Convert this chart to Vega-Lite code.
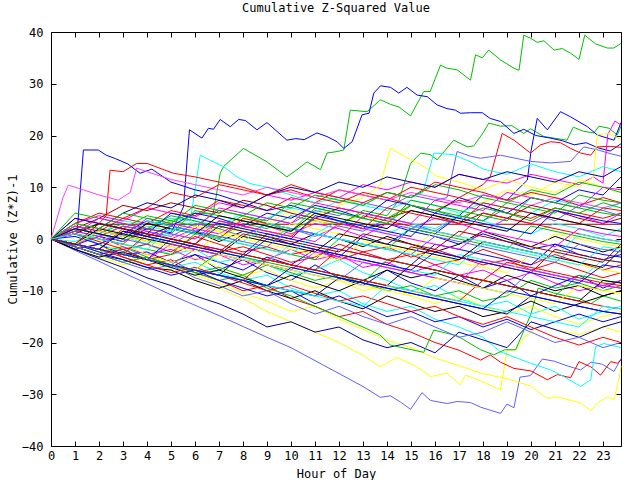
{
"$schema": "https://vega.github.io/schema/vega-lite/v6.json",
"width": 570, "height": 414,
"autosize": {"type": "none"},
"padding": {"left": 51, "top": 32, "right": 19, "bottom": 34},
"background": "white",
"config": {"view": {"stroke": "#000000", "strokeWidth": 1}, "font": "DejaVu Sans Mono"},
"title": {"text": "Cumulative Z-Squared Value", "font": "DejaVu Sans Mono", "fontSize": 12, "fontWeight": "normal", "color": "#000000", "offset": 11, "anchor": "middle"},
"data": {"values": [
{"s":1,"h":0,"v":0},{"s":1,"h":1,"v":1.5},{"s":1,"h":2,"v":0.5},{"s":1,"h":3,"v":2.5},{"s":1,"h":4,"v":1.8},{"s":1,"h":5,"v":3.5},{"s":1,"h":6,"v":5},{"s":1,"h":6.75,"v":4.8},{"s":1,"h":7.05,"v":12.7},{"s":1,"h":7.19,"v":14},{"s":1,"h":8.02,"v":17.5},{"s":1,"h":9,"v":14.9},{"s":1,"h":9.83,"v":12},{"s":1,"h":10.25,"v":13.4},{"s":1,"h":10.67,"v":14.9},{"s":1,"h":11.23,"v":13.4},{"s":1,"h":11.5,"v":16.6},{"s":1,"h":11.92,"v":16.9},{"s":1,"h":12.2,"v":17.2},{"s":1,"h":12.47,"v":24.9},{"s":1,"h":13.17,"v":24.6},{"s":1,"h":13.73,"v":26.9},{"s":1,"h":14.15,"v":26},{"s":1,"h":14.5,"v":25.5},{"s":1,"h":14.98,"v":23.8},{"s":1,"h":15.53,"v":28.5},{"s":1,"h":15.8,"v":28.5},{"s":1,"h":16.23,"v":33.6},{"s":1,"h":16.5,"v":33},{"s":1,"h":16.92,"v":32.7},{"s":1,"h":17.48,"v":30.7},{"s":1,"h":17.69,"v":35.6},{"s":1,"h":17.97,"v":35},{"s":1,"h":18.24,"v":36.5},{"s":1,"h":18.73,"v":34.6},{"s":1,"h":19.29,"v":33},{"s":1,"h":19.5,"v":32.6},{"s":1,"h":19.7,"v":39.4},{"s":1,"h":19.98,"v":38.8},{"s":1,"h":20.26,"v":38},{"s":1,"h":20.54,"v":38.3},{"s":1,"h":20.96,"v":36.5},{"s":1,"h":21.3,"v":36.8},{"s":1,"h":21.65,"v":35.9},{"s":1,"h":22,"v":34.7},{"s":1,"h":22.24,"v":39.4},{"s":1,"h":22.69,"v":37.7},{"s":1,"h":23.18,"v":36.9},{"s":1,"h":23.45,"v":36.9},{"s":1,"h":23.75,"v":37.8},
{"s":2,"h":0,"v":0},{"s":2,"h":1,"v":-1},{"s":2,"h":2,"v":1.5},{"s":2,"h":3,"v":0.8},{"s":2,"h":4,"v":-0.5},{"s":2,"h":5,"v":2},{"s":2,"h":6,"v":1.2},{"s":2,"h":7,"v":0.3},{"s":2,"h":8,"v":3},{"s":2,"h":9,"v":2},{"s":2,"h":10,"v":4.5},{"s":2,"h":11,"v":3.5},{"s":2,"h":12,"v":2.6},{"s":2,"h":13,"v":5.5},{"s":2,"h":14,"v":4.5},{"s":2,"h":14.5,"v":7.5},{"s":2,"h":14.98,"v":14.6},{"s":2,"h":15.4,"v":16.6},{"s":2,"h":15.8,"v":16.3},{"s":2,"h":16.09,"v":15.3},{"s":2,"h":16.78,"v":19.1},{"s":2,"h":17.34,"v":17.8},{"s":2,"h":17.62,"v":18},{"s":2,"h":18.03,"v":20.7},{"s":2,"h":18.24,"v":22.4},{"s":2,"h":18.73,"v":21.8},{"s":2,"h":19.2,"v":21.9},{"s":2,"h":19.7,"v":20.4},{"s":2,"h":19.98,"v":21.3},{"s":2,"h":20.54,"v":19.8},{"s":2,"h":21.5,"v":19.1},{"s":2,"h":21.76,"v":21.6},{"s":2,"h":22.2,"v":20.8},{"s":2,"h":22.62,"v":20.5},{"s":2,"h":22.83,"v":21.8},{"s":2,"h":23.25,"v":21.4},{"s":2,"h":23.6,"v":20.1},{"s":2,"h":23.75,"v":21.8},
{"s":3,"h":0,"v":0},{"s":3,"h":1,"v":-1.2},{"s":3,"h":2,"v":0.5},{"s":3,"h":3,"v":-0.5},{"s":3,"h":4,"v":2},{"s":3,"h":5,"v":1.2},{"s":3,"h":5.52,"v":6.2},{"s":3,"h":5.77,"v":21.1},{"s":3,"h":6.29,"v":19.5},{"s":3,"h":6.56,"v":21.4},{"s":3,"h":6.77,"v":21.2},{"s":3,"h":7.05,"v":23.1},{"s":3,"h":7.47,"v":21.7},{"s":3,"h":7.82,"v":23.1},{"s":3,"h":8.1,"v":22.9},{"s":3,"h":8.58,"v":21.1},{"s":3,"h":9,"v":22.5},{"s":3,"h":9.83,"v":19.1},{"s":3,"h":10.2,"v":19.4},{"s":3,"h":10.55,"v":19.2},{"s":3,"h":11.08,"v":20.5},{"s":3,"h":11.5,"v":19.8},{"s":3,"h":11.92,"v":18.8},{"s":3,"h":12.2,"v":17.5},{"s":3,"h":12.55,"v":18.8},{"s":3,"h":12.96,"v":24},{"s":3,"h":13.25,"v":24.3},{"s":3,"h":13.45,"v":28.2},{"s":3,"h":13.73,"v":29.6},{"s":3,"h":14.15,"v":29.3},{"s":3,"h":14.49,"v":28.2},{"s":3,"h":14.83,"v":29.3},{"s":3,"h":15.26,"v":27.8},{"s":3,"h":15.68,"v":27.5},{"s":3,"h":16.09,"v":25.9},{"s":3,"h":16.5,"v":25.2},{"s":3,"h":16.85,"v":24.9},{"s":3,"h":17.06,"v":24.3},{"s":3,"h":17.48,"v":24.4},{"s":3,"h":17.97,"v":24.4},{"s":3,"h":18.3,"v":23.3},{"s":3,"h":18.73,"v":22.7},{"s":3,"h":19.29,"v":20.4},{"s":3,"h":19.7,"v":21.2},{"s":3,"h":20.2,"v":20},{"s":3,"h":20.8,"v":19.5},{"s":3,"h":21.3,"v":19},{"s":3,"h":21.8,"v":18.2},{"s":3,"h":22.3,"v":18.6},{"s":3,"h":22.8,"v":17.6},{"s":3,"h":23.3,"v":17},{"s":3,"h":23.75,"v":18.4},
{"s":4,"h":0,"v":0},{"s":4,"h":1,"v":-1.5},{"s":4,"h":2,"v":-3},{"s":4,"h":3,"v":-2},{"s":4,"h":4,"v":-4},{"s":4,"h":5,"v":-5.5},{"s":4,"h":6,"v":-3},{"s":4,"h":7,"v":-4.5},{"s":4,"h":8,"v":-6},{"s":4,"h":9,"v":-3.5},{"s":4,"h":10,"v":-5},{"s":4,"h":11,"v":-2},{"s":4,"h":12,"v":-3.5},{"s":4,"h":13,"v":0.5},{"s":4,"h":14,"v":-1},{"s":4,"h":15,"v":2},{"s":4,"h":16,"v":1},{"s":4,"h":17,"v":4.5},{"s":4,"h":18,"v":8.5},{"s":4,"h":19,"v":7.5},{"s":4,"h":19.85,"v":11.4},{"s":4,"h":20,"v":17},{"s":4,"h":20.26,"v":23.3},{"s":4,"h":20.68,"v":21.1},{"s":4,"h":21.23,"v":24.6},{"s":4,"h":21.65,"v":23.6},{"s":4,"h":22.35,"v":21.7},{"s":4,"h":22.76,"v":20.1},{"s":4,"h":23.46,"v":19.1},{"s":4,"h":23.75,"v":22.5},
{"s":5,"h":0,"v":0},{"s":5,"h":1,"v":2.5},{"s":5,"h":2,"v":1.5},{"s":5,"h":3,"v":4},{"s":5,"h":4,"v":3},{"s":5,"h":5,"v":5.5},{"s":5,"h":6,"v":4.5},{"s":5,"h":7,"v":7.5},{"s":5,"h":8,"v":6.5},{"s":5,"h":9,"v":5.5},{"s":5,"h":10,"v":8},{"s":5,"h":11,"v":7},{"s":5,"h":12,"v":9.5},{"s":5,"h":13,"v":8.5},{"s":5,"h":14,"v":7.5},{"s":5,"h":15,"v":10},{"s":5,"h":16,"v":9},{"s":5,"h":17,"v":8},{"s":5,"h":18,"v":10.5},{"s":5,"h":18.3,"v":12},{"s":5,"h":18.8,"v":20.4},{"s":5,"h":19.29,"v":19.1},{"s":5,"h":19.98,"v":16.6},{"s":5,"h":20.4,"v":18.2},{"s":5,"h":20.82,"v":18.8},{"s":5,"h":21.23,"v":18.6},{"s":5,"h":21.65,"v":17.5},{"s":5,"h":22.07,"v":16.6},{"s":5,"h":22.49,"v":16.2},{"s":5,"h":22.76,"v":17.8},{"s":5,"h":23.3,"v":17.9},{"s":5,"h":23.75,"v":17.7},
{"s":6,"h":0,"v":0},{"s":6,"h":1,"v":1},{"s":6,"h":2,"v":-1},{"s":6,"h":3,"v":1.5},{"s":6,"h":4,"v":0.5},{"s":6,"h":5,"v":-1},{"s":6,"h":6,"v":1.5},{"s":6,"h":7,"v":3},{"s":6,"h":8,"v":2},{"s":6,"h":9,"v":4},{"s":6,"h":10,"v":3},{"s":6,"h":11,"v":5.5},{"s":6,"h":12,"v":4.5},{"s":6,"h":13,"v":7},{"s":6,"h":14,"v":6},{"s":6,"h":15,"v":8.5},{"s":6,"h":16,"v":7.5},{"s":6,"h":16.5,"v":8},{"s":6,"h":16.92,"v":16.9},{"s":6,"h":17.48,"v":16},{"s":6,"h":17.9,"v":15.6},{"s":6,"h":18.73,"v":16.2},{"s":6,"h":19.98,"v":15},{"s":6,"h":20.82,"v":14.7},{"s":6,"h":21.65,"v":15},{"s":6,"h":22.2,"v":17.8},{"s":6,"h":22.8,"v":17.2},{"s":6,"h":23.3,"v":16.5},{"s":6,"h":23.75,"v":16},
{"s":7,"h":0,"v":0},{"s":7,"h":1,"v":3},{"s":7,"h":2,"v":4.5},{"s":7,"h":3,"v":3.5},{"s":7,"h":4,"v":6},{"s":7,"h":5,"v":5},{"s":7,"h":6,"v":4.2},{"s":7,"h":7,"v":7},{"s":7,"h":8,"v":6},{"s":7,"h":9,"v":8.5},{"s":7,"h":10,"v":7.5},{"s":7,"h":11,"v":9},{"s":7,"h":12,"v":8},{"s":7,"h":13,"v":10.5},{"s":7,"h":14,"v":9.5},{"s":7,"h":15,"v":11},{"s":7,"h":16,"v":10},{"s":7,"h":17,"v":12.5},{"s":7,"h":18,"v":11.5},{"s":7,"h":19,"v":10.8},{"s":7,"h":20,"v":12.5},{"s":7,"h":21,"v":11.5},{"s":7,"h":22,"v":10.5},{"s":7,"h":22.6,"v":12},{"s":7,"h":23,"v":10.8},{"s":7,"h":23.2,"v":20.2},{"s":7,"h":23.5,"v":22.8},{"s":7,"h":23.75,"v":22},
{"s":8,"h":0,"v":0},{"s":8,"h":1,"v":-0.8},{"s":8,"h":2,"v":-2},{"s":8,"h":3,"v":0.5},{"s":8,"h":4,"v":-0.5},{"s":8,"h":5,"v":-1.5},{"s":8,"h":6,"v":1},{"s":8,"h":7,"v":0},{"s":8,"h":8,"v":2.5},{"s":8,"h":9,"v":1.5},{"s":8,"h":10,"v":0.8},{"s":8,"h":11,"v":3.5},{"s":8,"h":12,"v":2.5},{"s":8,"h":13,"v":5},{"s":8,"h":14,"v":4},{"s":8,"h":15,"v":6.5},{"s":8,"h":16,"v":5.5},{"s":8,"h":17,"v":8},{"s":8,"h":18,"v":7},{"s":8,"h":19,"v":9.5},{"s":8,"h":20,"v":8.5},{"s":8,"h":21,"v":11},{"s":8,"h":22,"v":10},{"s":8,"h":22.6,"v":12},{"s":8,"h":22.76,"v":20.1},{"s":8,"h":23.2,"v":20.4},{"s":8,"h":23.75,"v":19.3},
{"s":9,"h":0,"v":0},{"s":9,"h":1,"v":2},{"s":9,"h":2,"v":1},{"s":9,"h":3,"v":3.5},{"s":9,"h":4,"v":2.8},{"s":9,"h":5,"v":4},{"s":9,"h":5.8,"v":3.5},{"s":9,"h":6.22,"v":16.2},{"s":9,"h":6.77,"v":14.9},{"s":9,"h":7.19,"v":14},{"s":9,"h":7.75,"v":12},{"s":9,"h":8.3,"v":10.7},{"s":9,"h":9,"v":10},{"s":9,"h":10,"v":8.5},{"s":9,"h":11,"v":7},{"s":9,"h":12,"v":8},{"s":9,"h":13,"v":6.5},{"s":9,"h":14,"v":5.5},{"s":9,"h":15,"v":7.5},{"s":9,"h":16,"v":6.5},{"s":9,"h":17,"v":5},{"s":9,"h":18,"v":7},{"s":9,"h":19,"v":6},{"s":9,"h":20,"v":5},{"s":9,"h":21,"v":7.5},{"s":9,"h":22,"v":6.5},{"s":9,"h":23,"v":5.5},{"s":9,"h":23.75,"v":7},
{"s":10,"h":0,"v":0},{"s":10,"h":1,"v":1},{"s":10,"h":2,"v":-0.5},{"s":10,"h":3,"v":2},{"s":10,"h":4,"v":1},{"s":10,"h":5,"v":3.5},{"s":10,"h":6,"v":2.5},{"s":10,"h":7,"v":1.5},{"s":10,"h":8,"v":4},{"s":10,"h":9,"v":3},{"s":10,"h":10,"v":5.5},{"s":10,"h":11,"v":4.5},{"s":10,"h":12,"v":6.5},{"s":10,"h":13,"v":8},{"s":10,"h":13.72,"v":10.4},{"s":10,"h":14.14,"v":17.5},{"s":10,"h":14.98,"v":15.3},{"s":10,"h":15.4,"v":14.4},{"s":10,"h":16.09,"v":12.1},{"s":10,"h":17,"v":11},{"s":10,"h":18,"v":9.5},{"s":10,"h":19,"v":11.5},{"s":10,"h":20,"v":10},{"s":10,"h":21,"v":9},{"s":10,"h":22,"v":11.5},{"s":10,"h":23,"v":10},{"s":10,"h":23.75,"v":9},
{"s":11,"h":0,"v":0},{"s":11,"h":1,"v":-1},{"s":11,"h":2,"v":1},{"s":11,"h":3,"v":0},{"s":11,"h":4,"v":2.5},{"s":11,"h":5,"v":1.5},{"s":11,"h":6,"v":3.5},{"s":11,"h":7,"v":2.5},{"s":11,"h":8,"v":5},{"s":11,"h":9,"v":4},{"s":11,"h":10,"v":6},{"s":11,"h":11,"v":5},{"s":11,"h":12,"v":7.5},{"s":11,"h":13,"v":6.5},{"s":11,"h":14,"v":9},{"s":11,"h":15,"v":8},{"s":11,"h":15.5,"v":9},{"s":11,"h":15.95,"v":16.6},{"s":11,"h":16.78,"v":16.3},{"s":11,"h":17.48,"v":14.9},{"s":11,"h":18,"v":13.5},{"s":11,"h":19,"v":12.5},{"s":11,"h":20,"v":14.5},{"s":11,"h":21,"v":13},{"s":11,"h":22,"v":12},{"s":11,"h":23,"v":14},{"s":11,"h":23.75,"v":13},
{"s":12,"h":0,"v":0},{"s":12,"h":1,"v":4},{"s":12,"h":2,"v":3},{"s":12,"h":2.3,"v":4.5},{"s":12,"h":2.46,"v":13.3},{"s":12,"h":3,"v":13},{"s":12,"h":3.57,"v":14.6},{"s":12,"h":4,"v":14.6},{"s":12,"h":5.1,"v":12.7},{"s":12,"h":6,"v":12},{"s":12,"h":7,"v":11},{"s":12,"h":8,"v":10},{"s":12,"h":9,"v":8.5},{"s":12,"h":10,"v":9.5},{"s":12,"h":11,"v":8},{"s":12,"h":12,"v":7},{"s":12,"h":13,"v":9},{"s":12,"h":14,"v":8},{"s":12,"h":15,"v":6.5},{"s":12,"h":16,"v":5.5},{"s":12,"h":17,"v":7.5},{"s":12,"h":18,"v":6.5},{"s":12,"h":19,"v":5},{"s":12,"h":20,"v":4},{"s":12,"h":21,"v":6},{"s":12,"h":22,"v":5},{"s":12,"h":23,"v":4},{"s":12,"h":23.75,"v":5},
{"s":13,"h":0,"v":0},{"s":13,"h":0.5,"v":1.5},{"s":13,"h":1.1,"v":2},{"s":13,"h":1.35,"v":17.2},{"s":13,"h":1.97,"v":17.2},{"s":13,"h":2.3,"v":16.2},{"s":13,"h":2.7,"v":15.5},{"s":13,"h":3.2,"v":14.5},{"s":13,"h":3.71,"v":12.7},{"s":13,"h":4.2,"v":13.5},{"s":13,"h":5,"v":11},{"s":13,"h":6,"v":9.5},{"s":13,"h":7,"v":8.5},{"s":13,"h":8,"v":7},{"s":13,"h":9,"v":5.5},{"s":13,"h":10,"v":6.5},{"s":13,"h":11,"v":5},{"s":13,"h":12,"v":3.5},{"s":13,"h":13,"v":2},{"s":13,"h":14,"v":3},{"s":13,"h":15,"v":1.5},{"s":13,"h":16,"v":0.5},{"s":13,"h":17,"v":-1},{"s":13,"h":18,"v":1},{"s":13,"h":19,"v":-0.5},{"s":13,"h":20,"v":-2},{"s":13,"h":21,"v":-1},{"s":13,"h":22,"v":-3},{"s":13,"h":23,"v":-4},{"s":13,"h":23.75,"v":-3},
{"s":14,"h":0,"v":0},{"s":14,"h":0.5,"v":8},{"s":14,"h":0.72,"v":10.4},{"s":14,"h":1.35,"v":9.5},{"s":14,"h":2,"v":8.5},{"s":14,"h":2.8,"v":7.5},{"s":14,"h":3.3,"v":9},{"s":14,"h":3.57,"v":13.7},{"s":14,"h":4,"v":13},{"s":14,"h":5,"v":11.5},{"s":14,"h":6,"v":10.5},{"s":14,"h":7,"v":9.5},{"s":14,"h":8,"v":8.5},{"s":14,"h":9,"v":10},{"s":14,"h":10,"v":9},{"s":14,"h":11,"v":8},{"s":14,"h":12,"v":9.5},{"s":14,"h":13,"v":8.5},{"s":14,"h":14,"v":7.5},{"s":14,"h":15,"v":9},{"s":14,"h":16,"v":8},{"s":14,"h":17,"v":7},{"s":14,"h":18,"v":8.5},{"s":14,"h":19,"v":7.5},{"s":14,"h":20,"v":6.5},{"s":14,"h":21,"v":8},{"s":14,"h":22,"v":7},{"s":14,"h":23,"v":6},{"s":14,"h":23.75,"v":7},
{"s":15,"h":0,"v":0},{"s":15,"h":1,"v":1.5},{"s":15,"h":2,"v":2.85},{"s":15,"h":12,"v":2.85},{"s":15,"h":23.75,"v":2.85},
{"s":16,"h":0,"v":0},{"s":16,"h":1,"v":-2.2},{"s":16,"h":2,"v":-4.3},{"s":16,"h":3,"v":-6.5},{"s":16,"h":4,"v":-8.6},{"s":16,"h":5,"v":-10.8},{"s":16,"h":6,"v":-12.8},{"s":16,"h":7,"v":-14.8},{"s":16,"h":8,"v":-16.9},{"s":16,"h":9,"v":-19},{"s":16,"h":10,"v":-21},{"s":16,"h":11,"v":-23.5},{"s":16,"h":12,"v":-26},{"s":16,"h":13,"v":-28.5},{"s":16,"h":13.72,"v":-30.6},{"s":16,"h":14.14,"v":-30.3},{"s":16,"h":14.56,"v":-31.5},{"s":16,"h":14.98,"v":-32.9},{"s":16,"h":15.46,"v":-29.7},{"s":16,"h":15.81,"v":-31.2},{"s":16,"h":16.51,"v":-31.8},{"s":16,"h":16.92,"v":-31.4},{"s":16,"h":17.48,"v":-31.6},{"s":16,"h":17.9,"v":-32.5},{"s":16,"h":18.73,"v":-33.7},{"s":16,"h":19,"v":-31.9},{"s":16,"h":19.29,"v":-32.6},{"s":16,"h":19.54,"v":-26.7},{"s":16,"h":19.98,"v":-26.4},{"s":16,"h":20.47,"v":-23.2},{"s":16,"h":20.96,"v":-23.6},{"s":16,"h":21.5,"v":-24.5},{"s":16,"h":22.07,"v":-25.3},{"s":16,"h":22.5,"v":-23.8},{"s":16,"h":22.97,"v":-24.2},{"s":16,"h":23.46,"v":-25.6},{"s":16,"h":23.75,"v":-23.1},
{"s":17,"h":0,"v":0},{"s":17,"h":1,"v":-2},{"s":17,"h":2,"v":-3.5},{"s":17,"h":3,"v":-5},{"s":17,"h":4,"v":-4},{"s":17,"h":5,"v":-6},{"s":17,"h":6,"v":-8},{"s":17,"h":7,"v":-9.5},{"s":17,"h":8,"v":-11.5},{"s":17,"h":9,"v":-14},{"s":17,"h":10,"v":-16},{"s":17,"h":11,"v":-18},{"s":17,"h":12,"v":-20},{"s":17,"h":13,"v":-22.5},{"s":17,"h":13.72,"v":-24.7},{"s":17,"h":14.42,"v":-22.9},{"s":17,"h":14.84,"v":-23.8},{"s":17,"h":15.25,"v":-24.7},{"s":17,"h":15.81,"v":-26.6},{"s":17,"h":16.5,"v":-25.9},{"s":17,"h":17.06,"v":-28.2},{"s":17,"h":17.27,"v":-26.3},{"s":17,"h":17.9,"v":-27.4},{"s":17,"h":18.73,"v":-29.2},{"s":17,"h":19,"v":-21.5},{"s":17,"h":19.36,"v":-21.4},{"s":17,"h":19.7,"v":-19},{"s":17,"h":20.4,"v":-16.6},{"s":17,"h":21,"v":-17.5},{"s":17,"h":22,"v":-18.5},{"s":17,"h":23,"v":-17},{"s":17,"h":23.75,"v":-18},
{"s":18,"h":0,"v":0},{"s":18,"h":1,"v":-1.5},{"s":18,"h":2,"v":-3},{"s":18,"h":3,"v":-4.5},{"s":18,"h":4,"v":-3},{"s":18,"h":5,"v":-5},{"s":18,"h":6,"v":-7},{"s":18,"h":7,"v":-8.5},{"s":18,"h":8,"v":-10.5},{"s":18,"h":9,"v":-12},{"s":18,"h":10,"v":-14},{"s":18,"h":11,"v":-13},{"s":18,"h":12,"v":-15.5},{"s":18,"h":13,"v":-17.5},{"s":18,"h":14,"v":-19.5},{"s":18,"h":15,"v":-21},{"s":18,"h":16,"v":-23},{"s":18,"h":17,"v":-24.5},{"s":18,"h":18,"v":-26},{"s":18,"h":19,"v":-27},{"s":18,"h":19.98,"v":-28.4},{"s":18,"h":20.68,"v":-30.8},{"s":18,"h":21.1,"v":-30.5},{"s":18,"h":22.07,"v":-31.7},{"s":18,"h":22.49,"v":-33.2},{"s":18,"h":22.76,"v":-31.7},{"s":18,"h":23.18,"v":-30.5},{"s":18,"h":23.46,"v":-31},{"s":18,"h":23.67,"v":-26.9},{"s":18,"h":23.75,"v":-24.6},
{"s":19,"h":0,"v":0},{"s":19,"h":1,"v":-2},{"s":19,"h":2,"v":-1},{"s":19,"h":3,"v":-3.5},{"s":19,"h":4,"v":-5},{"s":19,"h":5,"v":-4},{"s":19,"h":6,"v":-6.5},{"s":19,"h":7,"v":-8},{"s":19,"h":8,"v":-10},{"s":19,"h":9,"v":-9},{"s":19,"h":10,"v":-11.5},{"s":19,"h":11,"v":-13},{"s":19,"h":12,"v":-15},{"s":19,"h":13,"v":-14},{"s":19,"h":14,"v":-16.5},{"s":19,"h":15,"v":-18},{"s":19,"h":16,"v":-20},{"s":19,"h":17,"v":-21.5},{"s":19,"h":17.9,"v":-23.4},{"s":19,"h":18.3,"v":-22.4},{"s":19,"h":18.73,"v":-23.8},{"s":19,"h":19.29,"v":-25},{"s":19,"h":20,"v":-25.5},{"s":19,"h":20.68,"v":-27.2},{"s":19,"h":21.1,"v":-26.2},{"s":19,"h":21.65,"v":-26.8},{"s":19,"h":22,"v":-23.7},{"s":19,"h":22.49,"v":-24.7},{"s":19,"h":22.9,"v":-26.3},{"s":19,"h":23.32,"v":-23.7},{"s":19,"h":23.6,"v":-24},{"s":19,"h":23.75,"v":-23.4},
{"s":20,"h":0,"v":0},{"s":20,"h":1,"v":-1.5},{"s":20,"h":2,"v":-3},{"s":20,"h":3,"v":-2},{"s":20,"h":4,"v":-4},{"s":20,"h":5,"v":-5.5},{"s":20,"h":6,"v":-4.5},{"s":20,"h":7,"v":-6.5},{"s":20,"h":8,"v":-8},{"s":20,"h":9,"v":-7},{"s":20,"h":10,"v":-9.5},{"s":20,"h":11,"v":-11},{"s":20,"h":12,"v":-10},{"s":20,"h":13,"v":-12.5},{"s":20,"h":14,"v":-14},{"s":20,"h":15,"v":-13},{"s":20,"h":16,"v":-15.5},{"s":20,"h":17,"v":-17},{"s":20,"h":18,"v":-19},{"s":20,"h":18.73,"v":-21.8},{"s":20,"h":19.98,"v":-24},{"s":20,"h":20.82,"v":-25.3},{"s":20,"h":21.37,"v":-26.6},{"s":20,"h":22.07,"v":-28.5},{"s":20,"h":22.49,"v":-27.2},{"s":20,"h":22.69,"v":-20.8},{"s":20,"h":23.04,"v":-20.2},{"s":20,"h":23.75,"v":-21},
{"s":21,"h":0,"v":0},{"s":21,"h":1,"v":-2},{"s":21,"h":2,"v":-3.8},{"s":21,"h":3,"v":-5.5},{"s":21,"h":4,"v":-7.5},{"s":21,"h":5,"v":-9},{"s":21,"h":6,"v":-11},{"s":21,"h":7,"v":-12.5},{"s":21,"h":8,"v":-14.5},{"s":21,"h":9,"v":-17},{"s":21,"h":10,"v":-16},{"s":21,"h":11,"v":-18},{"s":21,"h":12,"v":-17},{"s":21,"h":13,"v":-19.5},{"s":21,"h":14,"v":-21},{"s":21,"h":15,"v":-20},{"s":21,"h":16,"v":-22},{"s":21,"h":17,"v":-18},{"s":21,"h":18,"v":-19.5},{"s":21,"h":19,"v":-21},{"s":21,"h":20,"v":-16},{"s":21,"h":21,"v":-17.5},{"s":21,"h":22,"v":-19},{"s":21,"h":23,"v":-17},{"s":21,"h":23.75,"v":-16},
{"s":22,"h":0,"v":0},{"s":22,"h":1,"v":-1},{"s":22,"h":2,"v":-2.5},{"s":22,"h":3,"v":-1.5},{"s":22,"h":4,"v":-3.5},{"s":22,"h":5,"v":-5},{"s":22,"h":6,"v":-6.5},{"s":22,"h":7,"v":-8},{"s":22,"h":8,"v":-7},{"s":22,"h":9,"v":-9.5},{"s":22,"h":10,"v":-11},{"s":22,"h":11,"v":-13},{"s":22,"h":12,"v":-15},{"s":22,"h":13,"v":-17},{"s":22,"h":13.7,"v":-18.5},{"s":22,"h":14.14,"v":-20.5},{"s":22,"h":15.53,"v":-21.9},{"s":22,"h":15.95,"v":-17.6},{"s":22,"h":16.92,"v":-18.7},{"s":22,"h":17.9,"v":-21.4},{"s":22,"h":18.45,"v":-22.4},{"s":22,"h":18.9,"v":-21.4},{"s":22,"h":19.36,"v":-21.4},{"s":22,"h":19.98,"v":-14.7},{"s":22,"h":20.3,"v":-9.5},{"s":22,"h":21,"v":-10.5},{"s":22,"h":22,"v":-11.5},{"s":22,"h":22.5,"v":-12.5},{"s":22,"h":23,"v":-11},{"s":22,"h":23.75,"v":-12},
{"s":23,"h":0,"v":0},{"s":23,"h":1,"v":-1.5},{"s":23,"h":2,"v":-3},{"s":23,"h":3,"v":-4},{"s":23,"h":4,"v":-5.5},{"s":23,"h":5,"v":-6},{"s":23,"h":6,"v":-8},{"s":23,"h":7,"v":-9.5},{"s":23,"h":8,"v":-8},{"s":23,"h":9,"v":-10},{"s":23,"h":10,"v":-11.5},{"s":23,"h":11,"v":-10},{"s":23,"h":12,"v":-12},{"s":23,"h":13,"v":-13.5},{"s":23,"h":14,"v":-11},{"s":23,"h":15,"v":-12.5},{"s":23,"h":16,"v":-14},{"s":23,"h":17,"v":-13},{"s":23,"h":18,"v":-15},{"s":23,"h":19,"v":-14},{"s":23,"h":20,"v":-12},{"s":23,"h":21,"v":-14},{"s":23,"h":22,"v":-12.5},{"s":23,"h":23,"v":-11},{"s":23,"h":23.75,"v":-10},
{"s":24,"h":0,"v":0},{"s":24,"h":1,"v":3},{"s":24,"h":2,"v":5},{"s":24,"h":3,"v":4},{"s":24,"h":4,"v":6},{"s":24,"h":5,"v":9},{"s":24,"h":6,"v":8},{"s":24,"h":7,"v":10.5},{"s":24,"h":8,"v":9.5},{"s":24,"h":9,"v":8.5},{"s":24,"h":10,"v":10.5},{"s":24,"h":11,"v":9},{"s":24,"h":12,"v":8},{"s":24,"h":13,"v":7},{"s":24,"h":14,"v":9},{"s":24,"h":15,"v":8},{"s":24,"h":16,"v":11},{"s":24,"h":17,"v":10},{"s":24,"h":18,"v":9},{"s":24,"h":19,"v":7.5},{"s":24,"h":20,"v":9},{"s":24,"h":21,"v":8},{"s":24,"h":22,"v":6.5},{"s":24,"h":23,"v":8},{"s":24,"h":23.75,"v":7},
{"s":25,"h":0,"v":0},{"s":25,"h":1,"v":-2},{"s":25,"h":2,"v":-1},{"s":25,"h":3,"v":-3},{"s":25,"h":4,"v":-2.5},{"s":25,"h":5,"v":-4.5},{"s":25,"h":6,"v":-3},{"s":25,"h":7,"v":-6},{"s":25,"h":8,"v":-4},{"s":25,"h":9,"v":-6.5},{"s":25,"h":10,"v":-8},{"s":25,"h":11,"v":-5},{"s":25,"h":12,"v":-7.5},{"s":25,"h":13,"v":-9},{"s":25,"h":14,"v":-6},{"s":25,"h":15,"v":-8.5},{"s":25,"h":16,"v":-10},{"s":25,"h":17,"v":-7},{"s":25,"h":18,"v":-9.5},{"s":25,"h":19,"v":-8},{"s":25,"h":20,"v":-11},{"s":25,"h":21,"v":-9},{"s":25,"h":22,"v":-7},{"s":25,"h":23,"v":-9.5},{"s":25,"h":23.75,"v":-8},
{"s":26,"h":0,"v":0},{"s":26,"h":1,"v":1.5},{"s":26,"h":2,"v":3},{"s":26,"h":3,"v":2},{"s":26,"h":4,"v":4.5},{"s":26,"h":5,"v":3.5},{"s":26,"h":6,"v":2.5},{"s":26,"h":7,"v":5.5},{"s":26,"h":8,"v":4.5},{"s":26,"h":9,"v":7},{"s":26,"h":10,"v":6},{"s":26,"h":11,"v":8.5},{"s":26,"h":12,"v":7.5},{"s":26,"h":13,"v":6.5},{"s":26,"h":14,"v":9},{"s":26,"h":15,"v":8},{"s":26,"h":16,"v":10.5},{"s":26,"h":17,"v":9.5},{"s":26,"h":18,"v":8},{"s":26,"h":19,"v":7},{"s":26,"h":20,"v":9.5},{"s":26,"h":21,"v":8.5},{"s":26,"h":22,"v":11},{"s":26,"h":23,"v":10},{"s":26,"h":23.75,"v":9},
{"s":27,"h":0,"v":0},{"s":27,"h":1,"v":-1},{"s":27,"h":2,"v":0.5},{"s":27,"h":3,"v":-1.5},{"s":27,"h":4,"v":-3},{"s":27,"h":5,"v":-2},{"s":27,"h":6,"v":-4},{"s":27,"h":7,"v":-3},{"s":27,"h":8,"v":-5},{"s":27,"h":9,"v":-4},{"s":27,"h":10,"v":-2},{"s":27,"h":11,"v":-4},{"s":27,"h":12,"v":-3},{"s":27,"h":13,"v":-5.5},{"s":27,"h":14,"v":-4.5},{"s":27,"h":15,"v":-6.5},{"s":27,"h":16,"v":-5},{"s":27,"h":17,"v":-7},{"s":27,"h":18,"v":-6},{"s":27,"h":19,"v":-8},{"s":27,"h":20,"v":-6.5},{"s":27,"h":21,"v":-8.5},{"s":27,"h":22,"v":-10},{"s":27,"h":23,"v":-9},{"s":27,"h":23.75,"v":-8},
{"s":28,"h":0,"v":0},{"s":28,"h":1,"v":1},{"s":28,"h":2,"v":-1},{"s":28,"h":3,"v":-2.5},{"s":28,"h":4,"v":-1},{"s":28,"h":5,"v":-3},{"s":28,"h":6,"v":-2},{"s":28,"h":7,"v":-4.5},{"s":28,"h":8,"v":-3.5},{"s":28,"h":9,"v":-5},{"s":28,"h":10,"v":-7},{"s":28,"h":11,"v":-6},{"s":28,"h":12,"v":-4},{"s":28,"h":13,"v":-6.5},{"s":28,"h":14,"v":-8},{"s":28,"h":15,"v":-10},{"s":28,"h":16,"v":-9},{"s":28,"h":17,"v":-11.5},{"s":28,"h":18,"v":-13},{"s":28,"h":19,"v":-12},{"s":28,"h":20,"v":-14.5},{"s":28,"h":21,"v":-13},{"s":28,"h":22,"v":-15.5},{"s":28,"h":23,"v":-14},{"s":28,"h":23.75,"v":-13},
{"s":29,"h":0,"v":0},{"s":29,"h":1,"v":1},{"s":29,"h":2,"v":3},{"s":29,"h":3,"v":2},{"s":29,"h":4,"v":0.5},{"s":29,"h":5,"v":2.5},{"s":29,"h":6,"v":1.5},{"s":29,"h":7,"v":-0.5},{"s":29,"h":8,"v":1.5},{"s":29,"h":9,"v":0.5},{"s":29,"h":10,"v":-1},{"s":29,"h":11,"v":1},{"s":29,"h":12,"v":0},{"s":29,"h":13,"v":-1.5},{"s":29,"h":14,"v":0.5},{"s":29,"h":15,"v":-1},{"s":29,"h":16,"v":-2.5},{"s":29,"h":17,"v":-1},{"s":29,"h":18,"v":1.5},{"s":29,"h":19,"v":0},{"s":29,"h":20,"v":-1.5},{"s":29,"h":21,"v":0.5},{"s":29,"h":22,"v":-1},{"s":29,"h":23,"v":-2.5},{"s":29,"h":23.75,"v":-1.5},
{"s":30,"h":0,"v":0},{"s":30,"h":1,"v":-1},{"s":30,"h":2,"v":-2.5},{"s":30,"h":3,"v":-1},{"s":30,"h":4,"v":-3},{"s":30,"h":5,"v":-4.5},{"s":30,"h":6,"v":-3.5},{"s":30,"h":7,"v":-5.5},{"s":30,"h":8,"v":-7},{"s":30,"h":9,"v":-6},{"s":30,"h":10,"v":-8},{"s":30,"h":11,"v":-9.5},{"s":30,"h":12,"v":-8},{"s":30,"h":13,"v":-10},{"s":30,"h":14,"v":-9},{"s":30,"h":15,"v":-11},{"s":30,"h":16,"v":-12.5},{"s":30,"h":17,"v":-11},{"s":30,"h":18,"v":-13},{"s":30,"h":19,"v":-14.5},{"s":30,"h":20,"v":-13},{"s":30,"h":21,"v":-15},{"s":30,"h":22,"v":-16.5},{"s":30,"h":23,"v":-15},{"s":30,"h":23.75,"v":-14},
{"s":31,"h":0,"v":0},{"s":31,"h":1,"v":2},{"s":31,"h":2,"v":1},{"s":31,"h":3,"v":-0.5},{"s":31,"h":4,"v":1.5},{"s":31,"h":5,"v":0.5},{"s":31,"h":6,"v":3},{"s":31,"h":7,"v":2},{"s":31,"h":8,"v":0.5},{"s":31,"h":9,"v":3},{"s":31,"h":10,"v":2},{"s":31,"h":11,"v":0.5},{"s":31,"h":12,"v":2.5},{"s":31,"h":13,"v":1.5},{"s":31,"h":14,"v":4},{"s":31,"h":15,"v":3},{"s":31,"h":16,"v":1.5},{"s":31,"h":17,"v":4.5},{"s":31,"h":18,"v":3.5},{"s":31,"h":19,"v":6},{"s":31,"h":20,"v":5},{"s":31,"h":21,"v":3.5},{"s":31,"h":22,"v":6.5},{"s":31,"h":23,"v":5.5},{"s":31,"h":23.75,"v":4.5},
{"s":32,"h":0,"v":0},{"s":32,"h":1,"v":2},{"s":32,"h":2,"v":4},{"s":32,"h":3,"v":6.5},{"s":32,"h":4,"v":5.5},{"s":32,"h":5,"v":7},{"s":32,"h":6,"v":6},{"s":32,"h":7,"v":5},{"s":32,"h":8,"v":7.5},{"s":32,"h":9,"v":6.5},{"s":32,"h":10,"v":5},{"s":32,"h":11,"v":4},{"s":32,"h":12,"v":6},{"s":32,"h":13,"v":5},{"s":32,"h":14,"v":4},{"s":32,"h":15,"v":5.5},{"s":32,"h":16,"v":4.5},{"s":32,"h":17,"v":3},{"s":32,"h":18,"v":5},{"s":32,"h":19,"v":4},{"s":32,"h":20,"v":6.5},{"s":32,"h":21,"v":5.5},{"s":32,"h":22,"v":4},{"s":32,"h":23,"v":3},{"s":32,"h":23.75,"v":4},
{"s":33,"h":0,"v":0},{"s":33,"h":1,"v":-1.5},{"s":33,"h":2,"v":-3},{"s":33,"h":3,"v":-2},{"s":33,"h":4,"v":-4},{"s":33,"h":5,"v":-3},{"s":33,"h":6,"v":-1},{"s":33,"h":7,"v":-2.5},{"s":33,"h":8,"v":-1.5},{"s":33,"h":9,"v":-3},{"s":33,"h":10,"v":-4.5},{"s":33,"h":11,"v":-3.5},{"s":33,"h":12,"v":-1},{"s":33,"h":13,"v":-2.5},{"s":33,"h":14,"v":-4},{"s":33,"h":15,"v":-3},{"s":33,"h":16,"v":-5},{"s":33,"h":17,"v":-4},{"s":33,"h":18,"v":-2},{"s":33,"h":19,"v":-3.5},{"s":33,"h":20,"v":-5},{"s":33,"h":21,"v":-3},{"s":33,"h":22,"v":-4.5},{"s":33,"h":23,"v":-6},{"s":33,"h":23.75,"v":-5},
{"s":34,"h":0,"v":0},{"s":34,"h":1,"v":0.5},{"s":34,"h":2,"v":-1},{"s":34,"h":3,"v":1},{"s":34,"h":4,"v":3.5},{"s":34,"h":5,"v":2.5},{"s":34,"h":6,"v":5},{"s":34,"h":7,"v":4},{"s":34,"h":8,"v":2.5},{"s":34,"h":9,"v":5},{"s":34,"h":10,"v":4},{"s":34,"h":11,"v":6.5},{"s":34,"h":12,"v":5.5},{"s":34,"h":13,"v":4},{"s":34,"h":14,"v":7.5},{"s":34,"h":15,"v":6.5},{"s":34,"h":16,"v":5},{"s":34,"h":17,"v":8},{"s":34,"h":18,"v":6.5},{"s":34,"h":19,"v":5},{"s":34,"h":20,"v":8},{"s":34,"h":21,"v":7},{"s":34,"h":22,"v":9.5},{"s":34,"h":23,"v":8.5},{"s":34,"h":23.75,"v":12},
{"s":35,"h":0,"v":0},{"s":35,"h":1,"v":-1.5},{"s":35,"h":2,"v":-3},{"s":35,"h":3,"v":-4.5},{"s":35,"h":4,"v":-3.5},{"s":35,"h":5,"v":-5},{"s":35,"h":6,"v":-6.5},{"s":35,"h":7,"v":-5.5},{"s":35,"h":8,"v":-7},{"s":35,"h":9,"v":-5},{"s":35,"h":10,"v":-6.5},{"s":35,"h":11,"v":-8},{"s":35,"h":12,"v":-7},{"s":35,"h":13,"v":-8.5},{"s":35,"h":14,"v":-10},{"s":35,"h":15,"v":-9},{"s":35,"h":16,"v":-11},{"s":35,"h":17,"v":-10},{"s":35,"h":18,"v":-12},{"s":35,"h":19,"v":-11},{"s":35,"h":20,"v":-8},{"s":35,"h":21,"v":-9.5},{"s":35,"h":22,"v":-8.5},{"s":35,"h":23,"v":-10},{"s":35,"h":23.75,"v":-9},
{"s":36,"h":0,"v":0},{"s":36,"h":1,"v":1.5},{"s":36,"h":2,"v":0.5},{"s":36,"h":3,"v":2.5},{"s":36,"h":4,"v":1.5},{"s":36,"h":5,"v":0},{"s":36,"h":6,"v":2},{"s":36,"h":7,"v":1},{"s":36,"h":8,"v":3.5},{"s":36,"h":9,"v":2.5},{"s":36,"h":10,"v":1},{"s":36,"h":11,"v":3},{"s":36,"h":12,"v":2},{"s":36,"h":13,"v":0.5},{"s":36,"h":14,"v":3},{"s":36,"h":15,"v":2},{"s":36,"h":16,"v":4},{"s":36,"h":17,"v":3},{"s":36,"h":18,"v":1.5},{"s":36,"h":19,"v":4},{"s":36,"h":20,"v":3},{"s":36,"h":21,"v":5.5},{"s":36,"h":22,"v":4.5},{"s":36,"h":23,"v":3},{"s":36,"h":23.75,"v":5},
{"s":37,"h":0,"v":0},{"s":37,"h":1,"v":-0.5},{"s":37,"h":2,"v":1.5},{"s":37,"h":3,"v":0.5},{"s":37,"h":4,"v":-1},{"s":37,"h":5,"v":1},{"s":37,"h":6,"v":0},{"s":37,"h":7,"v":2.5},{"s":37,"h":8,"v":1.5},{"s":37,"h":9,"v":0},{"s":37,"h":10,"v":2},{"s":37,"h":11,"v":1},{"s":37,"h":12,"v":3.5},{"s":37,"h":13,"v":2.5},{"s":37,"h":14,"v":1},{"s":37,"h":15,"v":3},{"s":37,"h":16,"v":2},{"s":37,"h":17,"v":4.5},{"s":37,"h":18,"v":3.5},{"s":37,"h":19,"v":2},{"s":37,"h":20,"v":1},{"s":37,"h":21,"v":3},{"s":37,"h":22,"v":2},{"s":37,"h":23,"v":0.5},{"s":37,"h":23.75,"v":2},
{"s":38,"h":0,"v":0},{"s":38,"h":1,"v":-2},{"s":38,"h":2,"v":-3.5},{"s":38,"h":3,"v":-2.5},{"s":38,"h":4,"v":-4},{"s":38,"h":5,"v":-5.5},{"s":38,"h":6,"v":-7},{"s":38,"h":7,"v":-6},{"s":38,"h":8,"v":-7.5},{"s":38,"h":9,"v":-9},{"s":38,"h":10,"v":-7},{"s":38,"h":11,"v":-8.5},{"s":38,"h":12,"v":-10},{"s":38,"h":13,"v":-8},{"s":38,"h":14,"v":-6},{"s":38,"h":15,"v":-7.5},{"s":38,"h":16,"v":-6.5},{"s":38,"h":17,"v":-8},{"s":38,"h":18,"v":-9.5},{"s":38,"h":19,"v":-7},{"s":38,"h":20,"v":-8.5},{"s":38,"h":21,"v":-10},{"s":38,"h":22,"v":-9},{"s":38,"h":23,"v":-11},{"s":38,"h":23.75,"v":-10},
{"s":39,"h":0,"v":0},{"s":39,"h":1,"v":1},{"s":39,"h":2,"v":-0.5},{"s":39,"h":3,"v":-2},{"s":39,"h":4,"v":-1},{"s":39,"h":5,"v":-2.5},{"s":39,"h":6,"v":0.5},{"s":39,"h":7,"v":-1},{"s":39,"h":8,"v":-2.5},{"s":39,"h":9,"v":-1.5},{"s":39,"h":10,"v":-3},{"s":39,"h":11,"v":-2},{"s":39,"h":12,"v":-4},{"s":39,"h":13,"v":-2.5},{"s":39,"h":14,"v":-1.5},{"s":39,"h":15,"v":-3.5},{"s":39,"h":16,"v":-2},{"s":39,"h":17,"v":-3.5},{"s":39,"h":18,"v":-5},{"s":39,"h":19,"v":-4},{"s":39,"h":20,"v":-6},{"s":39,"h":21,"v":-4.5},{"s":39,"h":22,"v":-6},{"s":39,"h":23,"v":-7.5},{"s":39,"h":23.75,"v":-6.5},
{"s":40,"h":0,"v":0},{"s":40,"h":1,"v":-1},{"s":40,"h":2,"v":-2.5},{"s":40,"h":3,"v":-4},{"s":40,"h":4,"v":-5.5},{"s":40,"h":5,"v":-7},{"s":40,"h":6,"v":-6},{"s":40,"h":7,"v":-8},{"s":40,"h":8,"v":-9.5},{"s":40,"h":9,"v":-11},{"s":40,"h":10,"v":-10},{"s":40,"h":11,"v":-12.5},{"s":40,"h":12,"v":-11},{"s":40,"h":13,"v":-13},{"s":40,"h":14,"v":-15},{"s":40,"h":15,"v":-14},{"s":40,"h":16,"v":-16},{"s":40,"h":17,"v":-15},{"s":40,"h":18,"v":-17},{"s":40,"h":19,"v":-15.5},{"s":40,"h":20,"v":-17.5},{"s":40,"h":21,"v":-16},{"s":40,"h":22,"v":-14.5},{"s":40,"h":23,"v":-16},{"s":40,"h":23.75,"v":-15},
{"s":41,"h":0,"v":0},{"s":41,"h":1,"v":-1.5},{"s":41,"h":2,"v":-3},{"s":41,"h":3,"v":-4.5},{"s":41,"h":4,"v":-6},{"s":41,"h":5,"v":-5},{"s":41,"h":6,"v":-7.5},{"s":41,"h":7,"v":-9},{"s":41,"h":8,"v":-11},{"s":41,"h":9,"v":-10},{"s":41,"h":10,"v":-12.5},{"s":41,"h":11,"v":-14.5},{"s":41,"h":12,"v":-13},{"s":41,"h":13,"v":-15},{"s":41,"h":14,"v":-16.5},{"s":41,"h":15,"v":-15},{"s":41,"h":16,"v":-17},{"s":41,"h":17,"v":-19},{"s":41,"h":18,"v":-18},{"s":41,"h":19,"v":-16},{"s":41,"h":20,"v":-18},{"s":41,"h":21,"v":-20},{"s":41,"h":22,"v":-19},{"s":41,"h":23,"v":-21},{"s":41,"h":23.75,"v":-20},
{"s":42,"h":0,"v":0},{"s":42,"h":1,"v":2},{"s":42,"h":2,"v":1},{"s":42,"h":3,"v":3},{"s":42,"h":4,"v":2},{"s":42,"h":5,"v":4.5},{"s":42,"h":6,"v":3.5},{"s":42,"h":7,"v":2},{"s":42,"h":8,"v":4.5},{"s":42,"h":9,"v":3},{"s":42,"h":10,"v":1.5},{"s":42,"h":11,"v":4},{"s":42,"h":12,"v":3},{"s":42,"h":13,"v":5},{"s":42,"h":14,"v":4},{"s":42,"h":15,"v":6.5},{"s":42,"h":16,"v":5.5},{"s":42,"h":17,"v":4},{"s":42,"h":18,"v":6},{"s":42,"h":19,"v":5},{"s":42,"h":20,"v":3.5},{"s":42,"h":21,"v":6},{"s":42,"h":22,"v":5},{"s":42,"h":23,"v":7},{"s":42,"h":23.75,"v":6},
{"s":43,"h":0,"v":0},{"s":43,"h":1,"v":3},{"s":43,"h":2,"v":2},{"s":43,"h":3,"v":5},{"s":43,"h":4,"v":7},{"s":43,"h":5,"v":6},{"s":43,"h":6,"v":8.5},{"s":43,"h":7,"v":7.5},{"s":43,"h":8,"v":6},{"s":43,"h":9,"v":8.5},{"s":43,"h":10,"v":10},{"s":43,"h":11,"v":9},{"s":43,"h":12,"v":11},{"s":43,"h":13,"v":10},{"s":43,"h":14,"v":12},{"s":43,"h":15,"v":11},{"s":43,"h":16,"v":10},{"s":43,"h":17,"v":12.5},{"s":43,"h":18,"v":11.5},{"s":43,"h":19,"v":13},{"s":43,"h":20,"v":12},{"s":43,"h":21,"v":11},{"s":43,"h":22,"v":13},{"s":43,"h":23,"v":12},{"s":43,"h":23.75,"v":14},
{"s":44,"h":0,"v":0},{"s":44,"h":1,"v":-1},{"s":44,"h":2,"v":-2},{"s":44,"h":3,"v":-3.5},{"s":44,"h":4,"v":-5},{"s":44,"h":5,"v":-6.5},{"s":44,"h":6,"v":-5.5},{"s":44,"h":7,"v":-7},{"s":44,"h":8,"v":-8.5},{"s":44,"h":9,"v":-10},{"s":44,"h":10,"v":-9},{"s":44,"h":11,"v":-10.5},{"s":44,"h":12,"v":-12},{"s":44,"h":13,"v":-11},{"s":44,"h":14,"v":-12.5},{"s":44,"h":15,"v":-14},{"s":44,"h":16,"v":-13},{"s":44,"h":17,"v":-15},{"s":44,"h":18,"v":-16.5},{"s":44,"h":19,"v":-15},{"s":44,"h":20,"v":-17},{"s":44,"h":21,"v":-19},{"s":44,"h":22,"v":-20.5},{"s":44,"h":23,"v":-19},{"s":44,"h":23.75,"v":-20},
{"s":45,"h":0,"v":0},{"s":45,"h":1,"v":-1},{"s":45,"h":2,"v":-2},{"s":45,"h":3,"v":2},{"s":45,"h":4,"v":1},{"s":45,"h":5,"v":0},{"s":45,"h":6,"v":-1},{"s":45,"h":7,"v":3.5},{"s":45,"h":8,"v":2.5},{"s":45,"h":9,"v":1.5},{"s":45,"h":10,"v":0.5},{"s":45,"h":11,"v":4},{"s":45,"h":12,"v":3},{"s":45,"h":13,"v":2},{"s":45,"h":14,"v":6},{"s":45,"h":15,"v":5},{"s":45,"h":16,"v":4},{"s":45,"h":17,"v":3},{"s":45,"h":18,"v":7},{"s":45,"h":19,"v":6},{"s":45,"h":20,"v":5},{"s":45,"h":21,"v":4},{"s":45,"h":22,"v":3},{"s":45,"h":23,"v":6},{"s":45,"h":23.75,"v":5.5},
{"s":46,"h":0,"v":0},{"s":46,"h":1,"v":1},{"s":46,"h":2,"v":0},{"s":46,"h":3,"v":-1},{"s":46,"h":4,"v":-2},{"s":46,"h":5,"v":-3},{"s":46,"h":6,"v":1},{"s":46,"h":7,"v":0},{"s":46,"h":8,"v":-1},{"s":46,"h":9,"v":-2},{"s":46,"h":10,"v":-3},{"s":46,"h":11,"v":-4},{"s":46,"h":12,"v":0},{"s":46,"h":13,"v":-1},{"s":46,"h":14,"v":-2},{"s":46,"h":15,"v":2},{"s":46,"h":16,"v":1},{"s":46,"h":17,"v":0},{"s":46,"h":18,"v":-1},{"s":46,"h":19,"v":-2},{"s":46,"h":20,"v":2.5},{"s":46,"h":21,"v":1.5},{"s":46,"h":22,"v":0.5},{"s":46,"h":23,"v":-0.5},{"s":46,"h":23.75,"v":-1},
{"s":47,"h":0,"v":0},{"s":47,"h":1,"v":-1},{"s":47,"h":2,"v":-2},{"s":47,"h":3,"v":-3},{"s":47,"h":4,"v":-4},{"s":47,"h":5,"v":0},{"s":47,"h":6,"v":-1},{"s":47,"h":7,"v":-2},{"s":47,"h":8,"v":-3},{"s":47,"h":9,"v":1},{"s":47,"h":10,"v":0},{"s":47,"h":11,"v":-1},{"s":47,"h":12,"v":-2},{"s":47,"h":13,"v":-3},{"s":47,"h":14,"v":-4},{"s":47,"h":15,"v":-5},{"s":47,"h":16,"v":-1},{"s":47,"h":17,"v":-2},{"s":47,"h":18,"v":-3},{"s":47,"h":19,"v":-4},{"s":47,"h":20,"v":-5},{"s":47,"h":21,"v":-1},{"s":47,"h":22,"v":-2},{"s":47,"h":23,"v":-3},{"s":47,"h":23.75,"v":-3.5},
{"s":48,"h":0,"v":0},{"s":48,"h":1,"v":2.5},{"s":48,"h":2,"v":1.5},{"s":48,"h":3,"v":0.5},{"s":48,"h":4,"v":4},{"s":48,"h":5,"v":3},{"s":48,"h":6,"v":2},{"s":48,"h":7,"v":6},{"s":48,"h":8,"v":5},{"s":48,"h":9,"v":4},{"s":48,"h":10,"v":3},{"s":48,"h":11,"v":7},{"s":48,"h":12,"v":6},{"s":48,"h":13,"v":5},{"s":48,"h":14,"v":4},{"s":48,"h":15,"v":3},{"s":48,"h":16,"v":7.5},{"s":48,"h":17,"v":6.5},{"s":48,"h":18,"v":5.5},{"s":48,"h":19,"v":9},{"s":48,"h":20,"v":8},{"s":48,"h":21,"v":7},{"s":48,"h":22,"v":6},{"s":48,"h":23,"v":10},{"s":48,"h":23.75,"v":9.5},
{"s":49,"h":0,"v":0},{"s":49,"h":1,"v":-1},{"s":49,"h":2,"v":-2},{"s":49,"h":3,"v":-3},{"s":49,"h":4,"v":0.5},{"s":49,"h":5,"v":-0.5},{"s":49,"h":6,"v":-1.5},{"s":49,"h":7,"v":-2.5},{"s":49,"h":8,"v":-3.5},{"s":49,"h":9,"v":-4.5},{"s":49,"h":10,"v":-1},{"s":49,"h":11,"v":-2},{"s":49,"h":12,"v":-3},{"s":49,"h":13,"v":-4},{"s":49,"h":14,"v":-5},{"s":49,"h":15,"v":-6},{"s":49,"h":16,"v":-7},{"s":49,"h":17,"v":-3},{"s":49,"h":18,"v":-4},{"s":49,"h":19,"v":-5},{"s":49,"h":20,"v":-6},{"s":49,"h":21,"v":-7},{"s":49,"h":22,"v":-8},{"s":49,"h":23,"v":-4},{"s":49,"h":23.75,"v":-4.5},
{"s":50,"h":0,"v":0},{"s":50,"h":1,"v":3},{"s":50,"h":2,"v":2},{"s":50,"h":3,"v":1},{"s":50,"h":4,"v":0},{"s":50,"h":5,"v":-1},{"s":50,"h":6,"v":2.5},{"s":50,"h":7,"v":1.5},{"s":50,"h":8,"v":0.5},{"s":50,"h":9,"v":-0.5},{"s":50,"h":10,"v":3},{"s":50,"h":11,"v":2},{"s":50,"h":12,"v":1},{"s":50,"h":13,"v":0},{"s":50,"h":14,"v":-1},{"s":50,"h":15,"v":-2},{"s":50,"h":16,"v":1.5},{"s":50,"h":17,"v":0.5},{"s":50,"h":18,"v":-0.5},{"s":50,"h":19,"v":-1.5},{"s":50,"h":20,"v":-2.5},{"s":50,"h":21,"v":1},{"s":50,"h":22,"v":0},{"s":50,"h":23,"v":-1},{"s":50,"h":23.75,"v":-1.5},
{"s":51,"h":0,"v":0},{"s":51,"h":1,"v":-1},{"s":51,"h":2,"v":2},{"s":51,"h":3,"v":1},{"s":51,"h":4,"v":0},{"s":51,"h":5,"v":-1},{"s":51,"h":6,"v":-2},{"s":51,"h":7,"v":-3},{"s":51,"h":8,"v":0.5},{"s":51,"h":9,"v":-0.5},{"s":51,"h":10,"v":-1.5},{"s":51,"h":11,"v":-2.5},{"s":51,"h":12,"v":1},{"s":51,"h":13,"v":0},{"s":51,"h":14,"v":-1},{"s":51,"h":15,"v":-2},{"s":51,"h":16,"v":-3},{"s":51,"h":17,"v":-4},{"s":51,"h":18,"v":-0.5},{"s":51,"h":19,"v":-1.5},{"s":51,"h":20,"v":-2.5},{"s":51,"h":21,"v":-3.5},{"s":51,"h":22,"v":-4.5},{"s":51,"h":23,"v":-5.5},{"s":51,"h":23.75,"v":-2},
{"s":52,"h":0,"v":0},{"s":52,"h":1,"v":-1},{"s":52,"h":2,"v":-2},{"s":52,"h":3,"v":-3},{"s":52,"h":4,"v":-4},{"s":52,"h":5,"v":-5},{"s":52,"h":6,"v":-2},{"s":52,"h":7,"v":-3},{"s":52,"h":8,"v":-4},{"s":52,"h":9,"v":-5},{"s":52,"h":10,"v":-6},{"s":52,"h":11,"v":-7},{"s":52,"h":12,"v":-8},{"s":52,"h":13,"v":-4.5},{"s":52,"h":14,"v":-5.5},{"s":52,"h":15,"v":-6.5},{"s":52,"h":16,"v":-7.5},{"s":52,"h":17,"v":-8.5},{"s":52,"h":18,"v":-9.5},{"s":52,"h":19,"v":-10.5},{"s":52,"h":20,"v":-6},{"s":52,"h":21,"v":-7},{"s":52,"h":22,"v":-8},{"s":52,"h":23,"v":-9},{"s":52,"h":23.75,"v":-9.5},
{"s":53,"h":0,"v":0},{"s":53,"h":1,"v":-1},{"s":53,"h":2,"v":-2},{"s":53,"h":3,"v":1.5},{"s":53,"h":4,"v":0.5},{"s":53,"h":5,"v":-0.5},{"s":53,"h":6,"v":-1.5},{"s":53,"h":7,"v":-2.5},{"s":53,"h":8,"v":1},{"s":53,"h":9,"v":0},{"s":53,"h":10,"v":-1},{"s":53,"h":11,"v":-2},{"s":53,"h":12,"v":-3},{"s":53,"h":13,"v":-4},{"s":53,"h":14,"v":-5},{"s":53,"h":15,"v":-1.5},{"s":53,"h":16,"v":-2.5},{"s":53,"h":17,"v":-3.5},{"s":53,"h":18,"v":-4.5},{"s":53,"h":19,"v":-5.5},{"s":53,"h":20,"v":-6.5},{"s":53,"h":21,"v":-2},{"s":53,"h":22,"v":-3},{"s":53,"h":23,"v":-4},{"s":53,"h":23.75,"v":-4.5},
{"s":54,"h":0,"v":0},{"s":54,"h":1,"v":1},{"s":54,"h":2,"v":0},{"s":54,"h":3,"v":-1},{"s":54,"h":4,"v":3},{"s":54,"h":5,"v":2},{"s":54,"h":6,"v":1},{"s":54,"h":7,"v":0},{"s":54,"h":8,"v":4},{"s":54,"h":9,"v":3},{"s":54,"h":10,"v":2},{"s":54,"h":11,"v":1},{"s":54,"h":12,"v":0},{"s":54,"h":13,"v":4.5},{"s":54,"h":14,"v":3.5},{"s":54,"h":15,"v":2.5},{"s":54,"h":16,"v":1.5},{"s":54,"h":17,"v":0.5},{"s":54,"h":18,"v":5},{"s":54,"h":19,"v":4},{"s":54,"h":20,"v":3},{"s":54,"h":21,"v":2},{"s":54,"h":22,"v":1},{"s":54,"h":23,"v":0},{"s":54,"h":23.75,"v":-0.5},
{"s":55,"h":0,"v":0},{"s":55,"h":1,"v":-1},{"s":55,"h":2,"v":-2},{"s":55,"h":3,"v":-3},{"s":55,"h":4,"v":-4},{"s":55,"h":5,"v":-5},{"s":55,"h":6,"v":-6},{"s":55,"h":7,"v":-2.5},{"s":55,"h":8,"v":-3.5},{"s":55,"h":9,"v":-4.5},{"s":55,"h":10,"v":-5.5},{"s":55,"h":11,"v":-6.5},{"s":55,"h":12,"v":-7.5},{"s":55,"h":13,"v":-8.5},{"s":55,"h":14,"v":-4},{"s":55,"h":15,"v":-5},{"s":55,"h":16,"v":-6},{"s":55,"h":17,"v":-7},{"s":55,"h":18,"v":-8},{"s":55,"h":19,"v":-9},{"s":55,"h":20,"v":-10},{"s":55,"h":21,"v":-11},{"s":55,"h":22,"v":-7},{"s":55,"h":23,"v":-8},{"s":55,"h":23.75,"v":-8.5},
{"s":56,"h":0,"v":0},{"s":56,"h":1,"v":4},{"s":56,"h":2,"v":3},{"s":56,"h":3,"v":2},{"s":56,"h":4,"v":1},{"s":56,"h":5,"v":5},{"s":56,"h":6,"v":4},{"s":56,"h":7,"v":3},{"s":56,"h":8,"v":2},{"s":56,"h":9,"v":1},{"s":56,"h":10,"v":0},{"s":56,"h":11,"v":4.5},{"s":56,"h":12,"v":3.5},{"s":56,"h":13,"v":2.5},{"s":56,"h":14,"v":1.5},{"s":56,"h":15,"v":0.5},{"s":56,"h":16,"v":5},{"s":56,"h":17,"v":4},{"s":56,"h":18,"v":3},{"s":56,"h":19,"v":2},{"s":56,"h":20,"v":1},{"s":56,"h":21,"v":5.5},{"s":56,"h":22,"v":4.5},{"s":56,"h":23,"v":3.5},{"s":56,"h":23.75,"v":3},
{"s":57,"h":0,"v":0},{"s":57,"h":1,"v":-1},{"s":57,"h":2,"v":-2},{"s":57,"h":3,"v":-3},{"s":57,"h":4,"v":-4},{"s":57,"h":5,"v":-1},{"s":57,"h":6,"v":-2},{"s":57,"h":7,"v":-3},{"s":57,"h":8,"v":-4},{"s":57,"h":9,"v":-5},{"s":57,"h":10,"v":-6},{"s":57,"h":11,"v":-2.5},{"s":57,"h":12,"v":-3.5},{"s":57,"h":13,"v":-4.5},{"s":57,"h":14,"v":-5.5},{"s":57,"h":15,"v":-6.5},{"s":57,"h":16,"v":-7.5},{"s":57,"h":17,"v":-8.5},{"s":57,"h":18,"v":-4},{"s":57,"h":19,"v":-5},{"s":57,"h":20,"v":-6},{"s":57,"h":21,"v":-7},{"s":57,"h":22,"v":-8},{"s":57,"h":23,"v":-9},{"s":57,"h":23.75,"v":-9.5},
{"s":58,"h":0,"v":0},{"s":58,"h":1,"v":2},{"s":58,"h":2,"v":1},{"s":58,"h":3,"v":0},{"s":58,"h":4,"v":3.5},{"s":58,"h":5,"v":2.5},{"s":58,"h":6,"v":1.5},{"s":58,"h":7,"v":0.5},{"s":58,"h":8,"v":-0.5},{"s":58,"h":9,"v":3},{"s":58,"h":10,"v":2},{"s":58,"h":11,"v":1},{"s":58,"h":12,"v":0},{"s":58,"h":13,"v":-1},{"s":58,"h":14,"v":-2},{"s":58,"h":15,"v":2.5},{"s":58,"h":16,"v":1.5},{"s":58,"h":17,"v":0.5},{"s":58,"h":18,"v":-0.5},{"s":58,"h":19,"v":-1.5},{"s":58,"h":20,"v":-2.5},{"s":58,"h":21,"v":-3.5},{"s":58,"h":22,"v":1},{"s":58,"h":23,"v":0},{"s":58,"h":23.75,"v":-0.5},
{"s":59,"h":0,"v":0},{"s":59,"h":1,"v":-1},{"s":59,"h":2,"v":-2},{"s":59,"h":3,"v":-3},{"s":59,"h":4,"v":-4},{"s":59,"h":5,"v":-5},{"s":59,"h":6,"v":-6},{"s":59,"h":7,"v":-7},{"s":59,"h":8,"v":-3},{"s":59,"h":9,"v":-4},{"s":59,"h":10,"v":-5},{"s":59,"h":11,"v":-6},{"s":59,"h":12,"v":-7},{"s":59,"h":13,"v":-8},{"s":59,"h":14,"v":-9},{"s":59,"h":15,"v":-5},{"s":59,"h":16,"v":-6},{"s":59,"h":17,"v":-7},{"s":59,"h":18,"v":-8},{"s":59,"h":19,"v":-9},{"s":59,"h":20,"v":-10},{"s":59,"h":21,"v":-11},{"s":59,"h":22,"v":-12},{"s":59,"h":23,"v":-8},{"s":59,"h":23.75,"v":-8.5},
{"s":60,"h":0,"v":0},{"s":60,"h":1,"v":-1},{"s":60,"h":2,"v":1.5},{"s":60,"h":3,"v":0.5},{"s":60,"h":4,"v":-0.5},{"s":60,"h":5,"v":-1.5},{"s":60,"h":6,"v":-2.5},{"s":60,"h":7,"v":1},{"s":60,"h":8,"v":0},{"s":60,"h":9,"v":-1},{"s":60,"h":10,"v":-2},{"s":60,"h":11,"v":-3},{"s":60,"h":12,"v":-4},{"s":60,"h":13,"v":-0.5},{"s":60,"h":14,"v":-1.5},{"s":60,"h":15,"v":-2.5},{"s":60,"h":16,"v":-3.5},{"s":60,"h":17,"v":-4.5},{"s":60,"h":18,"v":-5.5},{"s":60,"h":19,"v":-6.5},{"s":60,"h":20,"v":-3},{"s":60,"h":21,"v":-4},{"s":60,"h":22,"v":-5},{"s":60,"h":23,"v":-6},{"s":60,"h":23.75,"v":-6.5},
{"s":61,"h":0,"v":0},{"s":61,"h":1,"v":-1},{"s":61,"h":2,"v":-2},{"s":61,"h":3,"v":-3},{"s":61,"h":4,"v":-4},{"s":61,"h":5,"v":-5},{"s":61,"h":6,"v":-6},{"s":61,"h":7,"v":-7},{"s":61,"h":8,"v":-8},{"s":61,"h":9,"v":-4},{"s":61,"h":10,"v":-5},{"s":61,"h":11,"v":-6},{"s":61,"h":12,"v":-7},{"s":61,"h":13,"v":-8},{"s":61,"h":14,"v":-9},{"s":61,"h":15,"v":-10},{"s":61,"h":16,"v":-11},{"s":61,"h":17,"v":-12},{"s":61,"h":18,"v":-8},{"s":61,"h":19,"v":-9},{"s":61,"h":20,"v":-10},{"s":61,"h":21,"v":-11},{"s":61,"h":22,"v":-12},{"s":61,"h":23,"v":-13},{"s":61,"h":23.75,"v":-13.5},
{"s":62,"h":0,"v":0},{"s":62,"h":1,"v":5},{"s":62,"h":2,"v":4},{"s":62,"h":3,"v":3},{"s":62,"h":4,"v":2},{"s":62,"h":5,"v":1},{"s":62,"h":6,"v":5.5},{"s":62,"h":7,"v":4.5},{"s":62,"h":8,"v":3.5},{"s":62,"h":9,"v":2.5},{"s":62,"h":10,"v":1.5},{"s":62,"h":11,"v":6},{"s":62,"h":12,"v":5},{"s":62,"h":13,"v":4},{"s":62,"h":14,"v":3},{"s":62,"h":15,"v":7.5},{"s":62,"h":16,"v":6.5},{"s":62,"h":17,"v":5.5},{"s":62,"h":18,"v":4.5},{"s":62,"h":19,"v":3.5},{"s":62,"h":20,"v":8},{"s":62,"h":21,"v":7},{"s":62,"h":22,"v":6},{"s":62,"h":23,"v":5},{"s":62,"h":23.75,"v":4.5},
{"s":63,"h":0,"v":0},{"s":63,"h":1,"v":-1},{"s":63,"h":2,"v":-2},{"s":63,"h":3,"v":1.5},{"s":63,"h":4,"v":0.5},{"s":63,"h":5,"v":-0.5},{"s":63,"h":6,"v":-1.5},{"s":63,"h":7,"v":-2.5},{"s":63,"h":8,"v":-3.5},{"s":63,"h":9,"v":0},{"s":63,"h":10,"v":-1},{"s":63,"h":11,"v":-2},{"s":63,"h":12,"v":-3},{"s":63,"h":13,"v":-4},{"s":63,"h":14,"v":-5},{"s":63,"h":15,"v":-6},{"s":63,"h":16,"v":-2.5},{"s":63,"h":17,"v":-3.5},{"s":63,"h":18,"v":-4.5},{"s":63,"h":19,"v":-5.5},{"s":63,"h":20,"v":-6.5},{"s":63,"h":21,"v":-7.5},{"s":63,"h":22,"v":-8.5},{"s":63,"h":23,"v":-5},{"s":63,"h":23.75,"v":-5.5},
{"s":64,"h":0,"v":0},{"s":64,"h":1,"v":-1},{"s":64,"h":2,"v":-2},{"s":64,"h":3,"v":-3},{"s":64,"h":4,"v":-4},{"s":64,"h":5,"v":-5},{"s":64,"h":6,"v":-6},{"s":64,"h":7,"v":-7},{"s":64,"h":8,"v":-8},{"s":64,"h":9,"v":-9},{"s":64,"h":10,"v":-10},{"s":64,"h":11,"v":-11},{"s":64,"h":12,"v":-7.5},{"s":64,"h":13,"v":-8.5},{"s":64,"h":14,"v":-9.5},{"s":64,"h":15,"v":-10.5},{"s":64,"h":16,"v":-11.5},{"s":64,"h":17,"v":-12.5},{"s":64,"h":18,"v":-13.5},{"s":64,"h":19,"v":-14.5},{"s":64,"h":20,"v":-11},{"s":64,"h":21,"v":-12},{"s":64,"h":22,"v":-13},{"s":64,"h":23,"v":-14},{"s":64,"h":23.75,"v":-14.5},
{"s":65,"h":0,"v":0},{"s":65,"h":1,"v":1},{"s":65,"h":2,"v":4},{"s":65,"h":3,"v":3},{"s":65,"h":4,"v":2},{"s":65,"h":5,"v":1},{"s":65,"h":6,"v":0},{"s":65,"h":7,"v":3.5},{"s":65,"h":8,"v":2.5},{"s":65,"h":9,"v":1.5},{"s":65,"h":10,"v":0.5},{"s":65,"h":11,"v":-0.5},{"s":65,"h":12,"v":3},{"s":65,"h":13,"v":2},{"s":65,"h":14,"v":1},{"s":65,"h":15,"v":0},{"s":65,"h":16,"v":-1},{"s":65,"h":17,"v":-2},{"s":65,"h":18,"v":1.5},{"s":65,"h":19,"v":0.5},{"s":65,"h":20,"v":-0.5},{"s":65,"h":21,"v":-1.5},{"s":65,"h":22,"v":2},{"s":65,"h":23,"v":1},{"s":65,"h":23.75,"v":0.5},
{"s":66,"h":0,"v":0},{"s":66,"h":1,"v":-1},{"s":66,"h":2,"v":-2},{"s":66,"h":3,"v":-3},{"s":66,"h":4,"v":-4},{"s":66,"h":5,"v":-5},{"s":66,"h":6,"v":-6},{"s":66,"h":7,"v":-7},{"s":66,"h":8,"v":-8},{"s":66,"h":9,"v":-9},{"s":66,"h":10,"v":-10},{"s":66,"h":11,"v":-11},{"s":66,"h":12,"v":-12},{"s":66,"h":13,"v":-13},{"s":66,"h":14,"v":-9},{"s":66,"h":15,"v":-10},{"s":66,"h":16,"v":-11},{"s":66,"h":17,"v":-12},{"s":66,"h":18,"v":-13},{"s":66,"h":19,"v":-14},{"s":66,"h":20,"v":-15},{"s":66,"h":21,"v":-16},{"s":66,"h":22,"v":-17},{"s":66,"h":23,"v":-13},{"s":66,"h":23.75,"v":-13.5},
{"s":67,"h":0,"v":0},{"s":67,"h":1,"v":2},{"s":67,"h":2,"v":1},{"s":67,"h":3,"v":0},{"s":67,"h":4,"v":-1},{"s":67,"h":5,"v":2.5},{"s":67,"h":6,"v":1.5},{"s":67,"h":7,"v":0.5},{"s":67,"h":8,"v":-0.5},{"s":67,"h":9,"v":-1.5},{"s":67,"h":10,"v":2},{"s":67,"h":11,"v":1},{"s":67,"h":12,"v":0},{"s":67,"h":13,"v":-1},{"s":67,"h":14,"v":-2},{"s":67,"h":15,"v":-3},{"s":67,"h":16,"v":0.5},{"s":67,"h":17,"v":-0.5},{"s":67,"h":18,"v":-1.5},{"s":67,"h":19,"v":-2.5},{"s":67,"h":20,"v":-3.5},{"s":67,"h":21,"v":-4.5},{"s":67,"h":22,"v":-1},{"s":67,"h":23,"v":-2},{"s":67,"h":23.75,"v":-2.5},
{"s":68,"h":0,"v":0},{"s":68,"h":1,"v":-1},{"s":68,"h":2,"v":-2},{"s":68,"h":3,"v":-3},{"s":68,"h":4,"v":1},{"s":68,"h":5,"v":0},{"s":68,"h":6,"v":-1},{"s":68,"h":7,"v":-2},{"s":68,"h":8,"v":-3},{"s":68,"h":9,"v":-4},{"s":68,"h":10,"v":-5},{"s":68,"h":11,"v":-6},{"s":68,"h":12,"v":-2},{"s":68,"h":13,"v":-3},{"s":68,"h":14,"v":-4},{"s":68,"h":15,"v":-5},{"s":68,"h":16,"v":-6},{"s":68,"h":17,"v":-7},{"s":68,"h":18,"v":-8},{"s":68,"h":19,"v":-4.5},{"s":68,"h":20,"v":-5.5},{"s":68,"h":21,"v":-6.5},{"s":68,"h":22,"v":-7.5},{"s":68,"h":23,"v":-8.5},{"s":68,"h":23.75,"v":-9},
{"s":69,"h":0,"v":0},{"s":69,"h":1,"v":3},{"s":69,"h":2,"v":2},{"s":69,"h":3,"v":5},{"s":69,"h":4,"v":4},{"s":69,"h":5,"v":3},{"s":69,"h":6,"v":6.5},{"s":69,"h":7,"v":5.5},{"s":69,"h":8,"v":4.5},{"s":69,"h":9,"v":3.5},{"s":69,"h":10,"v":7},{"s":69,"h":11,"v":6},{"s":69,"h":12,"v":5},{"s":69,"h":13,"v":4},{"s":69,"h":14,"v":3},{"s":69,"h":15,"v":6.5},{"s":69,"h":16,"v":5.5},{"s":69,"h":17,"v":4.5},{"s":69,"h":18,"v":3.5},{"s":69,"h":19,"v":7},{"s":69,"h":20,"v":6},{"s":69,"h":21,"v":5},{"s":69,"h":22,"v":8.5},{"s":69,"h":23,"v":7.5},{"s":69,"h":23.75,"v":7},
{"s":70,"h":0,"v":0},{"s":70,"h":1,"v":-1},{"s":70,"h":2,"v":-2},{"s":70,"h":3,"v":-3},{"s":70,"h":4,"v":-4},{"s":70,"h":5,"v":-5},{"s":70,"h":6,"v":-6},{"s":70,"h":7,"v":-3},{"s":70,"h":8,"v":-4},{"s":70,"h":9,"v":-5},{"s":70,"h":10,"v":-6},{"s":70,"h":11,"v":-7},{"s":70,"h":12,"v":-8},{"s":70,"h":13,"v":-9},{"s":70,"h":14,"v":-10},{"s":70,"h":15,"v":-11},{"s":70,"h":16,"v":-7.5},{"s":70,"h":17,"v":-8.5},{"s":70,"h":18,"v":-9.5},{"s":70,"h":19,"v":-10.5},{"s":70,"h":20,"v":-11.5},{"s":70,"h":21,"v":-12.5},{"s":70,"h":22,"v":-9},{"s":70,"h":23,"v":-10},{"s":70,"h":23.75,"v":-10.5},
{"s":71,"h":0,"v":0},{"s":71,"h":1,"v":2},{"s":71,"h":2,"v":1},{"s":71,"h":3,"v":0},{"s":71,"h":4,"v":3},{"s":71,"h":5,"v":2},{"s":71,"h":6,"v":1},{"s":71,"h":7,"v":4.5},{"s":71,"h":8,"v":3.5},{"s":71,"h":9,"v":2.5},{"s":71,"h":10,"v":1.5},{"s":71,"h":11,"v":5},{"s":71,"h":12,"v":4},{"s":71,"h":13,"v":3},{"s":71,"h":14,"v":2},{"s":71,"h":15,"v":5.5},{"s":71,"h":16,"v":4.5},{"s":71,"h":17,"v":3.5},{"s":71,"h":18,"v":2.5},{"s":71,"h":19,"v":1.5},{"s":71,"h":20,"v":5},{"s":71,"h":21,"v":4},{"s":71,"h":22,"v":3},{"s":71,"h":23,"v":2},{"s":71,"h":23.75,"v":1.5},
{"s":72,"h":0,"v":0},{"s":72,"h":1,"v":-1},{"s":72,"h":2,"v":-2},{"s":72,"h":3,"v":-3},{"s":72,"h":4,"v":-4},{"s":72,"h":5,"v":-5},{"s":72,"h":6,"v":-6},{"s":72,"h":7,"v":-7},{"s":72,"h":8,"v":-8},{"s":72,"h":9,"v":-9},{"s":72,"h":10,"v":-5.5},{"s":72,"h":11,"v":-6.5},{"s":72,"h":12,"v":-7.5},{"s":72,"h":13,"v":-8.5},{"s":72,"h":14,"v":-9.5},{"s":72,"h":15,"v":-10.5},{"s":72,"h":16,"v":-11.5},{"s":72,"h":17,"v":-12.5},{"s":72,"h":18,"v":-13.5},{"s":72,"h":19,"v":-10},{"s":72,"h":20,"v":-11},{"s":72,"h":21,"v":-12},{"s":72,"h":22,"v":-13},{"s":72,"h":23,"v":-14},{"s":72,"h":23.75,"v":-14.5},
{"s":73,"h":0,"v":0},{"s":73,"h":1,"v":-1},{"s":73,"h":2,"v":3},{"s":73,"h":3,"v":2},{"s":73,"h":4,"v":1},{"s":73,"h":5,"v":0},{"s":73,"h":6,"v":-1},{"s":73,"h":7,"v":2.5},{"s":73,"h":8,"v":1.5},{"s":73,"h":9,"v":0.5},{"s":73,"h":10,"v":-0.5},{"s":73,"h":11,"v":-1.5},{"s":73,"h":12,"v":-2.5},{"s":73,"h":13,"v":1},{"s":73,"h":14,"v":0},{"s":73,"h":15,"v":-1},{"s":73,"h":16,"v":-2},{"s":73,"h":17,"v":1.5},{"s":73,"h":18,"v":0.5},{"s":73,"h":19,"v":-0.5},{"s":73,"h":20,"v":-1.5},{"s":73,"h":21,"v":-2.5},{"s":73,"h":22,"v":-3.5},{"s":73,"h":23,"v":-4.5},{"s":73,"h":23.75,"v":-1},
{"s":74,"h":0,"v":0},{"s":74,"h":1,"v":1},{"s":74,"h":2,"v":0},{"s":74,"h":3,"v":-1},{"s":74,"h":4,"v":-2},{"s":74,"h":5,"v":2},{"s":74,"h":6,"v":1},{"s":74,"h":7,"v":0},{"s":74,"h":8,"v":-1},{"s":74,"h":9,"v":-2},{"s":74,"h":10,"v":-3},{"s":74,"h":11,"v":1},{"s":74,"h":12,"v":0},{"s":74,"h":13,"v":-1},{"s":74,"h":14,"v":-2},{"s":74,"h":15,"v":-3},{"s":74,"h":16,"v":-4},{"s":74,"h":17,"v":-5},{"s":74,"h":18,"v":-1},{"s":74,"h":19,"v":-2},{"s":74,"h":20,"v":-3},{"s":74,"h":21,"v":-4},{"s":74,"h":22,"v":-5},{"s":74,"h":23,"v":-1.5},{"s":74,"h":23.75,"v":-2}
]},
"layer": [
{"mark": {"type": "line", "strokeWidth": 1, "interpolate": "linear"},
 "encoding": {
  "x": {"field": "h", "type": "quantitative", "scale": {"domain": [0, 23.75], "nice": false, "zero": false},
   "axis": {"orient": "bottom", "values": [0,1,2,3,4,5,6,7,8,9,10,11,12,13,14,15,16,17,18,19,20,21,22,23], "grid": false, "domain": false, "tickColor": "#000000", "tickSize": -5, "tickWidth": 1, "labelPadding": 9, "labelFont": "DejaVu Sans Mono", "labelFontSize": 12, "labelColor": "#000000", "labelFlush": false, "labelOverlap": false, "title": "Hour of Day", "titleFont": "DejaVu Sans Mono", "titleFontSize": 12, "titleFontWeight": "normal", "titleColor": "#000000", "titleX": 285, "titleY": 27, "titleBaseline": "middle", "titleAlign": "center"}},
  "y": {"field": "v", "type": "quantitative", "scale": {"domain": [-40, 40], "nice": false},
   "axis": {"orient": "left", "values": [-40,-30,-20,-10,0,10,20,30,40], "grid": false, "domain": false, "tickColor": "#000000", "tickSize": -5, "tickWidth": 1, "labelPadding": 13, "labelFont": "DejaVu Sans Mono", "labelFontSize": 12, "labelColor": "#000000", "labelFlush": false, "labelOverlap": false, "title": "Cumulative (Z*Z)-1", "titleFont": "DejaVu Sans Mono", "titleFontSize": 12, "titleFontWeight": "normal", "titleColor": "#000000", "titleX": -39, "titleY": 207, "titleBaseline": "middle", "titleAlign": "center", "titleAngle": -90}},
  "color": {"field": "s", "type": "nominal", "legend": null, "scale": {
   "domain": [1,2,3,4,5,6,7,8,9,10,11,12,13,14,15,16,17,18,19,20,21,22,23,24,25,26,27,28,29,30,31,32,33,34,35,36,37,38,39,40,41,42,43,44,45,46,47,48,49,50,51,52,53,54,55,56,57,58,59,60,61,62,63,64,65,66,67,68,69,70,71,72,73,74],
   "range": ["#00c000","#00c000","#0000ff","#0000ff","#ff0000","#6060ff","#ff00ff","#ffff00","#00ffff","#ffff00","#00ffff","#ff0000","#0000ff","#ff40ff","#a00000","#6060ff","#ffff00","#ffff00","#ff0000","#00ffff","#0000a0","#00c000","#000000","#ff0000","#0000ff","#00c000","#ff00ff","#00ffff","#000000","#ffff00","#6060ff","#a00000","#ff0000","#0000ff","#00c000","#ff00ff","#00ffff","#000000","#ff0000","#0000ff","#6060ff","#00c000","#0000a0","#ff0000","#ff0000","#00c000","#0000ff","#ff00ff","#00ffff","#ffff00","#000000","#6060ff","#a00000","#ff0000","#00c000","#0000ff","#ff00ff","#00ffff","#000000","#ffff00","#ff0000","#00c000","#0000ff","#0000a0","#ff00ff","#00ffff","#6060ff","#ff0000","#00c000","#ffff00","#000000","#0000ff","#a00000","#00ffff"]}}
 }},
{"mark": {"type": "line", "opacity": 0},
 "encoding": {
  "x": {"field": "h", "type": "quantitative", "axis": {"orient": "top", "values": [0,1,2,3,4,5,6,7,8,9,10,11,12,13,14,15,16,17,18,19,20,21,22,23], "grid": false, "domain": false, "labels": false, "tickColor": "#000000", "tickSize": -5, "tickWidth": 1, "title": null}},
  "y": {"field": "v", "type": "quantitative", "axis": {"orient": "right", "values": [-40,-30,-20,-10,0,10,20,30,40], "grid": false, "domain": false, "labels": false, "tickColor": "#000000", "tickSize": -5, "tickWidth": 1, "title": null}},
  "detail": {"field": "s", "type": "nominal"}
 }}
],
"resolve": {"axis": {"x": "independent", "y": "independent"}}
}
